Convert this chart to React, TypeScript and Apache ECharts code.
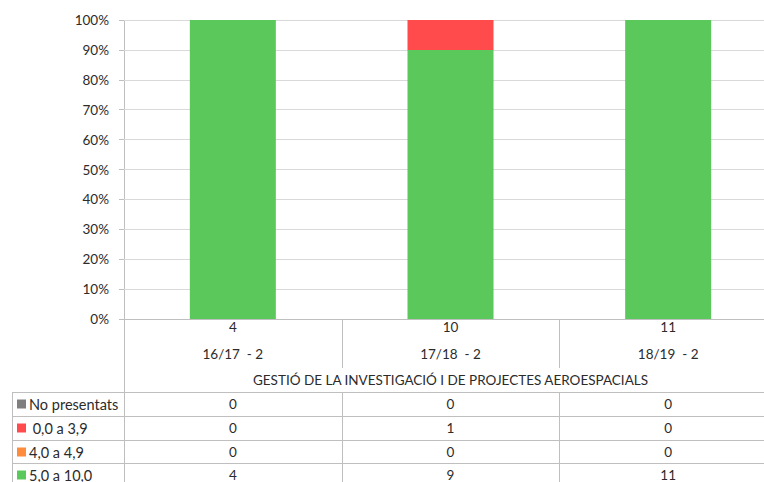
import React, { useEffect, useRef } from "react";
import * as echarts from "echarts";

const categories = ["16/17  - 2", "17/18  - 2", "18/19  - 2"];
const seriesNames = ["No presentats", " 0,0 a 3,9", "4,0 a 4,9", "5,0 a 10,0"];
const noPresentats = [0, 0, 0];
const suspens = [0, 1, 0];
const aprovatBaix = [0, 0, 0];
const aprovat = [4, 9, 11];
const seriesColors = ["#7f7f7f", "#ff4b4b", "#ff8b3d", "#5bc85b"];
const yTicks = [0, 10, 20, 30, 40, 50, 60, 70, 80, 90, 100];
const title = "GESTIÓ DE LA INVESTIGACIÓ I DE PROJECTES AEROESPACIALS";

const FONT = "Lato";
const FS = 13.5;
const TXT = "#2b2b2b";
const LINE = "#bfbfbf";

export default function App() {
  const ref = useRef<HTMLDivElement>(null);
  useEffect(() => {
    if (!ref.current) return;
    const chart = echarts.init(ref.current, undefined, { renderer: "svg" });
    const counts = [noPresentats, suspens, aprovatBaix, aprovat];
    const totals = categories.map((_, i) => counts.reduce((s, arr) => s + arr[i], 0));
    const pct = (arr: number[]) => arr.map((v, i) => (totals[i] ? (v / totals[i]) * 100 : 0));

    const gridLeft = 124;
    const gridTop = 20;
    const gridBottomY = 319;
    const gridWidth = 653;
    const colW = gridWidth / categories.length;
    const colCenters = categories.map((_, i) => gridLeft + colW * (i + 0.5));
    const colBounds = categories.map((_, i) => gridLeft + colW * i).concat([gridLeft + gridWidth]);

    const rowTops = [392, 416, 440, 463, 487];
    const graphics: any[] = [];
    graphics.push({ type: "line", shape: { x1: gridLeft + 0.5, y1: gridTop, x2: gridLeft + 0.5, y2: 482 }, style: { stroke: LINE, lineWidth: 1 }, silent: true });
    rowTops.forEach((y) => {
      graphics.push({ type: "line", shape: { x1: 12, y1: y + 0.5, x2: 790, y2: y + 0.5 }, style: { stroke: LINE, lineWidth: 1 }, silent: true });
    });
    graphics.push({ type: "line", shape: { x1: 12.5, y1: rowTops[0], x2: 12.5, y2: 482 }, style: { stroke: LINE, lineWidth: 1 }, silent: true });
    colBounds.slice(1, -1).forEach((x) => {
      graphics.push({ type: "line", shape: { x1: Math.round(x) + 0.5, y1: gridBottomY, x2: Math.round(x) + 0.5, y2: 368 }, style: { stroke: LINE, lineWidth: 1 }, silent: true });
      graphics.push({ type: "line", shape: { x1: Math.round(x) + 0.5, y1: rowTops[0], x2: Math.round(x) + 0.5, y2: 482 }, style: { stroke: LINE, lineWidth: 1 }, silent: true });
    });
    graphics.push({ type: "text", x: gridLeft + gridWidth / 2, y: 380, style: { text: title, font: `${FS}px ${FONT}`, fill: TXT, align: "center", verticalAlign: "middle" }, silent: true });
    seriesNames.forEach((name, r) => {
      const cy = rowTops[r] + 12;
      graphics.push({ type: "rect", shape: { x: 17, y: cy - 4.5, width: 9, height: 9 }, style: { fill: seriesColors[r] }, silent: true });
      graphics.push({ type: "text", x: 29, y: cy, style: { text: name, font: `14.5px ${FONT}`, fill: TXT, align: "left", verticalAlign: "middle" }, silent: true });
      counts[r].forEach((v, i) => {
        graphics.push({ type: "text", x: colCenters[i], y: cy, style: { text: String(v), font: `${FS}px ${FONT}`, fill: TXT, align: "center", verticalAlign: "middle" }, silent: true });
      });
    });

    const order = [3, 2, 1, 0];
    chart.setOption({
      animation: false,
      backgroundColor: "#ffffff",
      grid: { left: gridLeft, top: gridTop, width: gridWidth, height: gridBottomY - gridTop, containLabel: false },
      xAxis: {
        type: "category",
        data: categories,
        axisLine: { show: true, lineStyle: { color: LINE } },
        axisTick: { show: false },
        axisLabel: {
          margin: 0,
          interval: 0,
          formatter: (v: string, i: number) => `{n|${totals[i]}}\n{c|${v}}`,
          rich: {
            n: { fontFamily: FONT, fontSize: FS, color: TXT, lineHeight: 16 },
            c: { fontFamily: FONT, fontSize: FS, color: TXT, lineHeight: 38 },
          },
        },
        splitLine: { show: false },
      },
      yAxis: {
        type: "value",
        min: 0,
        max: 100,
        interval: 10,
        axisLine: { show: false },
        axisTick: { show: true, length: 5, lineStyle: { color: LINE } },
        axisLabel: { formatter: (v: number) => (yTicks.includes(v) ? `${v}%` : ""), fontFamily: FONT, fontSize: FS, color: TXT, margin: 15 },
        splitLine: { show: true, lineStyle: { color: "#d9d9d9", width: 1 } },
      },
      series: order.map((k) => ({
        name: seriesNames[k],
        type: "bar",
        stack: "total",
        barWidth: 86,
        data: pct(counts[k]),
        itemStyle: { color: seriesColors[k] },
        emphasis: { disabled: true },
      })),
      graphic: graphics,
    });
    return () => chart.dispose();
  }, []);
  return <div ref={ref} style={{ position: "fixed", left: 0, top: 0, width: 790, height: 482 }} />;
}
